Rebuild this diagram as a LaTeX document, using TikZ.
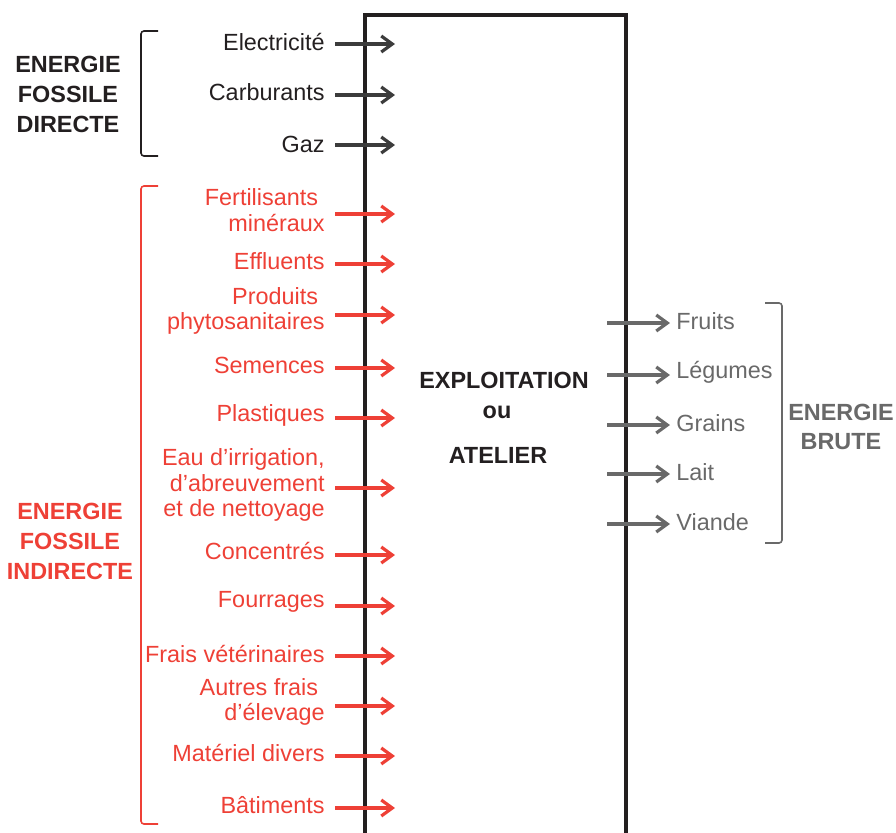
\documentclass[tikz,border=0pt]{standalone}
\usepackage{fontspec}
\setmainfont{Liberation Sans}
\usetikzlibrary{arrows.meta}
\definecolor{fosred}{RGB}{238,64,54}
\definecolor{fosdark}{RGB}{60,60,60}
\definecolor{brutgray}{RGB}{105,105,105}
\definecolor{txtblack}{RGB}{35,31,32}

\begin{document}
\begin{tikzpicture}[x=0.5pt,y=-0.5pt,
	font=\fontsize{11.7}{12.8}\selectfont,
	inlabel/.style={anchor=east,align=right,inner xsep=5pt,inner ysep=1pt},
	outlabel/.style={anchor=west,align=left,inner xsep=3pt,inner ysep=1pt,text=brutgray},
	grouplabel/.style={align=center,font=\fontsize{11.7}{15}\selectfont\bfseries},
	arr/.style={line width=1.6pt,-{Straight Barb[length=5.5pt,width=8pt]}},
	bracket/.style={line width=0.8pt,rounded corners=1.5pt}]
	\clip (0,0) rectangle (896,832);
	% the farm box, open at the bottom
	\draw[line width=2pt,txtblack] (365,850) -- (365,15) -- (626,15) -- (626,850);
	\node[font=\fontsize{11.7}{14}\selectfont\bfseries,text=txtblack] (expl) at (504,380) {EXPLOITATION};
	\node[font=\fontsize{11.7}{14}\selectfont\bfseries,text=txtblack] (ou) at (497,412) {ou};
	\node[font=\fontsize{11.7}{14}\selectfont\bfseries,text=txtblack] (atel) at (498,455) {ATELIER};
	% direct fossil energy
	\node[inlabel,text=txtblack] (elec) at (335,42) {Electricité};
	\node[inlabel,text=txtblack] (carb) at (335,92) {Carburants};
	\node[inlabel,text=txtblack] (gaz) at (335,144) {Gaz};
	\coordinate (d1) at (395,44);
	\coordinate (d2) at (395,95);
	\coordinate (d3) at (395,145);
	\draw[arr,fosdark] (elec.east |- d1) -- (d1);
	\draw[arr,fosdark] (carb.east |- d2) -- (d2);
	\draw[arr,fosdark] (gaz.east |- d3) -- (d3);
	\draw[bracket,txtblack] (158,31) -- (141,31) -- (141,156) -- (158,156);
	\node[grouplabel,text=txtblack] (direct) at (68,94) {ENERGIE\\FOSSILE\\DIRECTE};
	% indirect fossil energy
	\node[inlabel,text=fosred] (fert) at (335,210) {Fertilisants\hspace*{0.28em}\\minéraux};
	\node[inlabel,text=fosred] (effl) at (335,261) {Effluents};
	\node[inlabel,text=fosred] (phyto) at (335,311) {Produits\hspace*{0.28em}\\phytosanitaires};
	\node[inlabel,text=fosred] (sem) at (335,365) {Semences};
	\node[inlabel,text=fosred] (plast) at (335,415) {Plastiques};
	\node[inlabel,text=fosred,font=\fontsize{11.7}{12.9}\selectfont] (eau) at (335,485) {Eau d’irrigation,\\d’abreuvement\hspace*{0.28em}\\et de nettoyage};
	\node[inlabel,text=fosred] (conc) at (335,551) {Concentrés};
	\node[inlabel,text=fosred] (four) at (335,602) {Fourrages};
	\node[inlabel,text=fosred] (veto) at (335,654) {Frais vétérinaires};
	\node[inlabel,text=fosred] (elev) at (335,702) {Autres frais\hspace*{0.28em}\\d’élevage};
	\node[inlabel,text=fosred] (mat) at (335,753) {Matériel divers};
	\node[inlabel,text=fosred] (bat) at (335,805) {Bâtiments};
	\coordinate (i1) at (395,214);
	\coordinate (i2) at (395,264);
	\coordinate (i3) at (395,315);
	\coordinate (i4) at (395,368);
	\coordinate (i5) at (395,418);
	\coordinate (i6) at (395,488);
	\coordinate (i7) at (395,555);
	\coordinate (i8) at (395,606);
	\coordinate (i9) at (395,656);
	\coordinate (i10) at (395,706);
	\coordinate (i11) at (395,756);
	\coordinate (i12) at (395,808);
	\draw[arr,fosred] (fert.east |- i1) -- (i1);
	\draw[arr,fosred] (effl.east |- i2) -- (i2);
	\draw[arr,fosred] (phyto.east |- i3) -- (i3);
	\draw[arr,fosred] (sem.east |- i4) -- (i4);
	\draw[arr,fosred] (plast.east |- i5) -- (i5);
	\draw[arr,fosred] (eau.east |- i6) -- (i6);
	\draw[arr,fosred] (conc.east |- i7) -- (i7);
	\draw[arr,fosred] (four.east |- i8) -- (i8);
	\draw[arr,fosred] (veto.east |- i9) -- (i9);
	\draw[arr,fosred] (elev.east |- i10) -- (i10);
	\draw[arr,fosred] (mat.east |- i11) -- (i11);
	\draw[arr,fosred] (bat.east |- i12) -- (i12);
	\draw[bracket,fosred] (158,186) -- (141,186) -- (141,824) -- (158,824);
	\node[grouplabel,text=fosred] (indirect) at (70,541) {ENERGIE\\FOSSILE\\INDIRECTE};
	% gross energy out
	\node[outlabel] (fruits) at (670,321) {Fruits};
	\node[outlabel] (leg) at (670,372) {Légumes};
	\node[outlabel] (grains) at (670,423) {Grains};
	\node[outlabel] (lait) at (670,472) {Lait};
	\node[outlabel] (viande) at (670,522) {Viande};
	\coordinate (o1) at (607,323);
	\coordinate (o2) at (607,375);
	\coordinate (o3) at (607,425);
	\coordinate (o4) at (607,474);
	\coordinate (o5) at (607,524);
	\draw[arr,brutgray] (o1) -- (o1 -| fruits.west);
	\draw[arr,brutgray] (o2) -- (o2 -| leg.west);
	\draw[arr,brutgray] (o3) -- (o3 -| grains.west);
	\draw[arr,brutgray] (o4) -- (o4 -| lait.west);
	\draw[arr,brutgray] (o5) -- (o5 -| viande.west);
	\draw[bracket,brutgray] (765,303) -- (782,303) -- (782,543) -- (765,543);
	\node[grouplabel,text=brutgray,font=\fontsize{11.7}{14.5}\selectfont\bfseries] (brute) at (841,427) {ENERGIE\\BRUTE};
\end{tikzpicture}
\end{document}
